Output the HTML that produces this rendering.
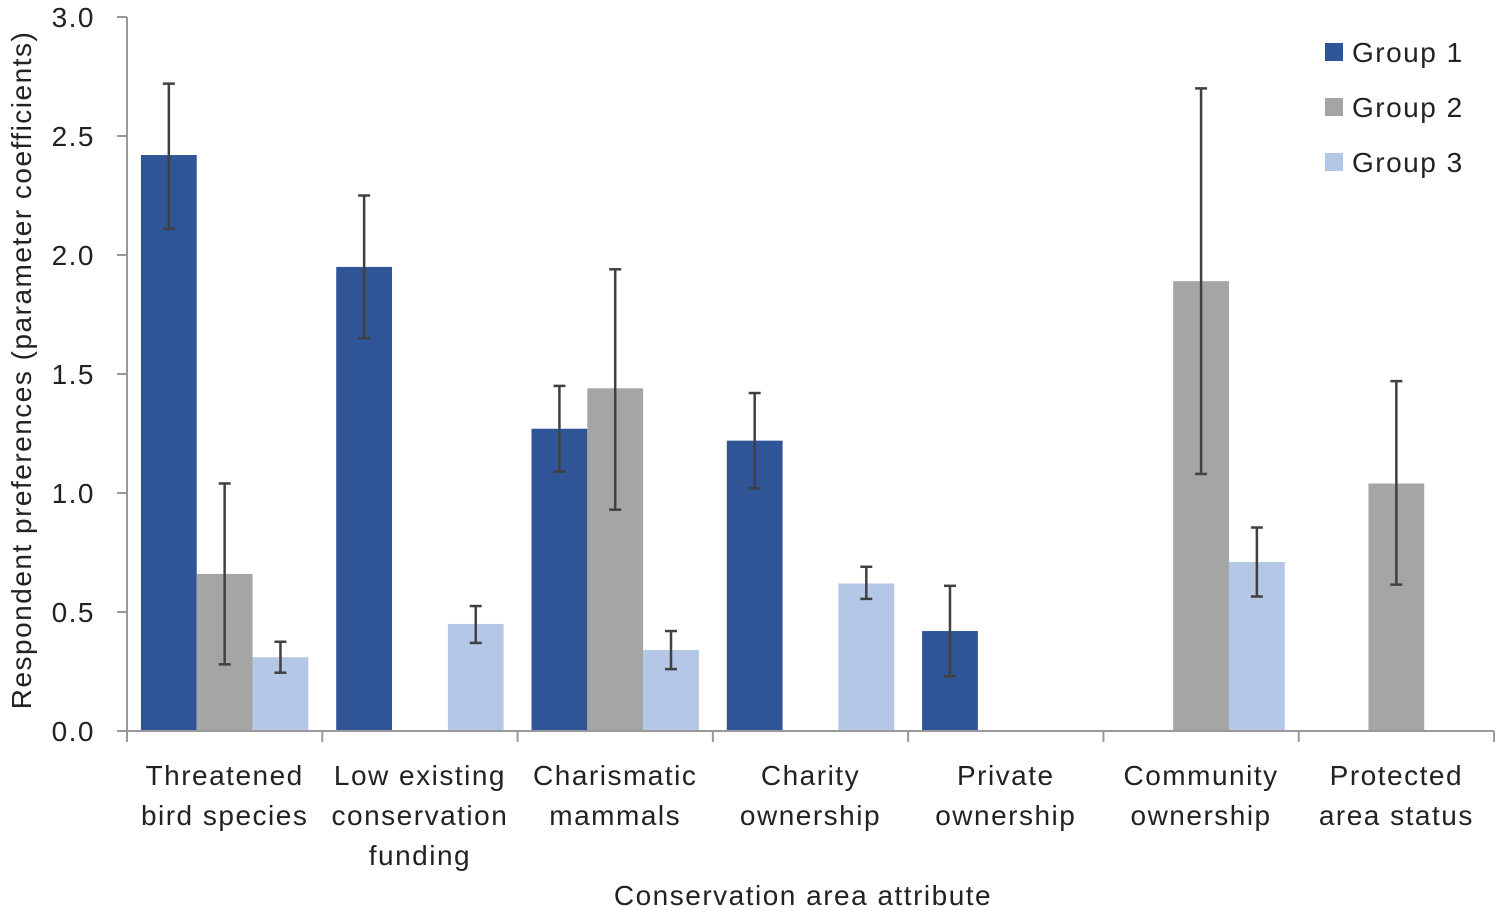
<!DOCTYPE html>
<html><head><meta charset="utf-8"><style>
html,body{margin:0;padding:0;background:#fff;}
svg{display:block;font-family:"Liberation Sans",sans-serif;}
svg text{letter-spacing:1.5px;}
</style></head><body>
<svg id="chart" width="1500" height="910"></svg>
<script>
const categories=[["Threatened","bird species"],["Low existing","conservation","funding"],["Charismatic","mammals"],["Charity","ownership"],["Private","ownership"],["Community","ownership"],["Protected","area status"]];
const seriesNames=["Group 1","Group 2","Group 3"];
const group1=[2.42,1.95,1.27,1.22,0.42,null,null];
const group1Lo=[2.11,1.65,1.09,1.02,0.23,null,null];
const group1Hi=[2.72,2.25,1.45,1.42,0.61,null,null];
const group2=[0.66,null,1.44,null,null,1.89,1.04];
const group2Lo=[0.28,null,0.93,null,null,1.08,0.615];
const group2Hi=[1.04,null,1.94,null,null,2.70,1.47];
const group3=[0.31,0.45,0.34,0.62,null,0.71,null];
const group3Lo=[0.245,0.37,0.26,0.555,null,0.565,null];
const group3Hi=[0.375,0.525,0.42,0.69,null,0.855,null];
const yTicks=[0,0.5,1,1.5,2,2.5,3];
const yTickLabels=["0.0","0.5","1.0","1.5","2.0","2.5","3.0"];
const colors=["#2F5597","#A5A5A5","#B4C7E7"];

const NS="http://www.w3.org/2000/svg";
const svg=document.getElementById("chart");
const X0=127,X1=1494,Y0=731,Y1=17;
const catW=(X1-X0)/categories.length, barW=55.8;
const y=v=>Y0-(v/3)*(Y0-Y1);
const xCat=i=>X0+i*catW;
function el(tag,attrs,text){const e=document.createElementNS(NS,tag);for(const k in attrs)e.setAttribute(k,attrs[k]);if(text!=null)e.textContent=text;svg.appendChild(e);return e;}

const series=[[group1,group1Lo,group1Hi],[group2,group2Lo,group2Hi],[group3,group3Lo,group3Hi]];
series.forEach((s,si)=>{
  s[0].forEach((v,i)=>{
    if(v==null)return;
    const bx=xCat(i)+(catW-3*barW)/2+si*barW;
    const r=el("rect",{x:bx,y:y(v),width:barW,height:Y0-y(v),fill:colors[si]});
    
    
  });
});
series.forEach((s,si)=>{
  s[0].forEach((v,i)=>{
    if(v==null)return;
    const cx=xCat(i)+(catW-3*barW)/2+si*barW+barW/2;
    const g=el("g",{stroke:"#404040","stroke-width":2.5});
    
    
    [[cx,y(s[1][i]),cx,y(s[2][i])],[cx-6,y(s[1][i]),cx+6,y(s[1][i])],[cx-6,y(s[2][i]),cx+6,y(s[2][i])]].forEach(a=>{
      const l=document.createElementNS(NS,"line");l.setAttribute("x1",a[0]);l.setAttribute("y1",a[1]);l.setAttribute("x2",a[2]);l.setAttribute("y2",a[3]);g.appendChild(l);
    });
  });
});
let ax=el("line",{x1:X0,y1:Y1,x2:X0,y2:Y0,stroke:"#999","stroke-width":2});

ax=el("line",{x1:X0,y1:Y0,x2:X1,y2:Y0,stroke:"#999","stroke-width":2});

yTicks.forEach((t,i)=>{
  el("line",{x1:117,y1:y(t),x2:X0,y2:y(t),stroke:"#999","stroke-width":2});
  const tl=el("text",{x:95,y:y(t)+10,"text-anchor":"end","font-size":28,fill:"#222"},yTickLabels[i]);
  
});
for(let i=0;i<=categories.length;i++) el("line",{x1:xCat(i),y1:Y0,x2:xCat(i),y2:Y0+11,stroke:"#999","stroke-width":2});
categories.forEach((c,i)=>{
  c.forEach((ln,j)=>{
    const t=el("text",{x:xCat(i)+catW/2,y:785+j*40,"text-anchor":"middle","font-size":28,fill:"#222"},ln);
    
  });
});
let t=el("text",{x:803,y:905,"text-anchor":"middle","font-size":28,fill:"#222"},"Conservation area attribute");

t=el("text",{x:0,y:0,"text-anchor":"middle","font-size":28,fill:"#222",transform:"translate(31,370) rotate(-90)"},"Respondent preferences (parameter coefficients)");

seriesNames.forEach((n,i)=>{
  const ly=52+i*55;
  const r=el("rect",{x:1325,y:ly-9,width:18,height:18,fill:colors[i]});
  
  const lt=el("text",{x:1352,y:ly+10,"font-size":28,fill:"#222"},n);
  
});
</script>
</body></html>
